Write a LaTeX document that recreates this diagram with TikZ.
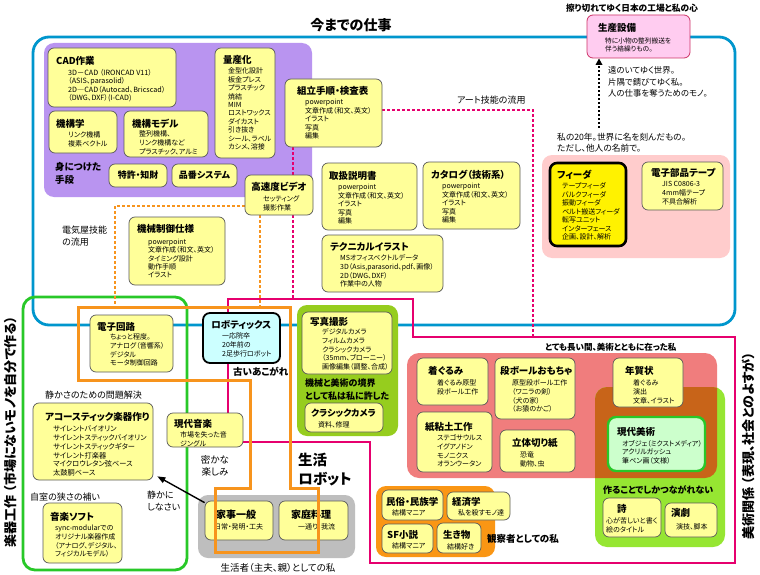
\documentclass[tikz,border=0pt]{standalone}
\usepackage{fontspec}
\setmainfont{Noto Sans CJK JP}[RawFeature=+palt]
\usetikzlibrary{fit,calc,arrows.meta}
\definecolor{ylw}{RGB}{255,255,153}
\definecolor{bluel}{RGB}{0,150,205}
\definecolor{purp}{RGB}{185,148,240}
\definecolor{pinkr}{RGB}{255,204,204}
\definecolor{grn}{RGB}{40,200,40}
\definecolor{limea}{RGB}{150,205,30}
\definecolor{limeb}{RGB}{150,230,50}
\definecolor{salm}{RGB}{240,125,125}
\definecolor{brownx}{RGB}{200,100,25}
\definecolor{grayr}{RGB}{190,190,190}
\definecolor{orng}{RGB}{247,148,29}
\definecolor{orreg}{RGB}{250,150,20}
\definecolor{mag}{RGB}{230,0,110}
\definecolor{cyanb}{RGB}{204,255,255}
\definecolor{ltgrn}{RGB}{204,255,204}
\definecolor{seis}{RGB}{255,204,240}
\definecolor{seisb}{RGB}{204,51,102}
\pgfdeclarelayer{regions}
\pgfdeclarelayer{lines}
\pgfdeclarelayer{front}
\pgfsetlayers{regions,lines,main,front}
\begin{document}
\begin{tikzpicture}[x=1pt,y=-1pt,
  yb/.style={draw=black!65, fill=ylw, rounded corners=6pt, line width=0.7pt, inner sep=0pt},
  ttl/.style={font=\bfseries\fontsize{9.5}{11}\selectfont, anchor=west, inner sep=0pt},
  bd/.style={font=\fontsize{7}{8.6}\selectfont, anchor=north west, align=left, inner sep=0pt, yshift=3.2pt},
  lb/.style={font=\fontsize{9}{12}\selectfont, anchor=west, inner sep=0pt},
  lbb/.style={font=\bfseries\fontsize{9}{12}\selectfont, anchor=west, inner sep=0pt},
  pdot/.style={mag, line width=2.6pt, dash pattern=on 2.6pt off 2.4pt},
  odot/.style={orng, line width=2.6pt, dash pattern=on 2.6pt off 2.4pt},
  vert/.style={font=\bfseries\fontsize{13}{15}\selectfont, rotate=90, inner sep=0pt}
]
\useasboundingbox (0,0) rectangle (760,575);

% ---------- regions ----------
\begin{pgfonlayer}{regions}
\fill[white] (0,0) rectangle (760,575);
\draw[bluel, line width=2.8pt, rounded corners=16pt] (33,37) rectangle (735,325);
\fill[purp, rounded corners=10pt] (44,43) rectangle (312,197);
\fill[pinkr, rounded corners=10pt] (542,155) rectangle (730,258);
\fill[limea, rounded corners=10pt] (297,305) rectangle (398,436);
\fill[salm, rounded corners=12pt] (407,353) rectangle (717,478);
\fill[limeb, rounded corners=12pt] (595,387) rectangle (725,547);
\begin{scope}
\clip[rounded corners=12pt] (407,353) rectangle (717,478);
\fill[brownx, rounded corners=12pt] (595,387) rectangle (725,547);
\end{scope}
\fill[grayr, rounded corners=10pt] (198,495) rectangle (355,558);
\fill[orreg, rounded corners=10pt] (376,486) rectangle (495,557);
\end{pgfonlayer}

% ---------- titles ----------
\node[font=\bfseries\fontsize{14}{16}\selectfont, inner sep=0pt] (maintitle) at (351,25) {今までの仕事};
\node[font=\bfseries\fontsize{8.7}{10}\selectfont, inner sep=0pt] (toptitle) at (632,8) {擦り切れてゆく日本の工場と私の心};

% ---------- purple group ----------
\node[yb, fit={(48,48)(176,107)}] (cad) {};
\node[ttl] at (56,61) {CAD作業};
\node[bd, font=\fontsize{7.2}{8.6}\selectfont] at (68,72) {3D－CAD （IRONCAD V11）\\（ASIS、parasolid）\\2D―CAD（Autocad、Bricscad）\\（DWG、DXF）(I-CAD)};

\node[yb, fit={(49,111)(117,153)}] (kikou) {};
\node[ttl] at (56,124) {機構学};
\node[bd] at (68,135) {リンク機構\\複素ベクトル};

\node[yb, fit={(124,111)(208,157)}] (model) {};
\node[ttl] at (132,124) {機構モデル};
\node[bd] at (139,134) {整列機構、\\リンク機構など\\プラスチック、アルミ};

\node[font=\bfseries\fontsize{9.5}{13}\selectfont, align=left, anchor=west, inner sep=0pt] (mi) at (55,173.5) {身につけた\\手段};
\node[yb, fit={(109,164)(167,187)}] (tokkyo) {};
\node[font=\bfseries\fontsize{9}{11}\selectfont, inner sep=0pt] at (tokkyo) {特許・知財};
\node[yb, fit={(172,164)(237,187)}] (hinban) {};
\node[font=\bfseries\fontsize{9}{11}\selectfont, inner sep=0pt] at (hinban) {品番システム};

\node[yb, fit={(215,48)(275,158)}] (ryo) {};
\node[ttl] at (223,60) {量産化};
\node[bd, font=\fontsize{7}{8.4}\selectfont] at (228,71) {金型化設計\\板金プレス\\プラスチック\\焼結\\MIM\\ロストワックス\\ダイカスト\\引き抜き\\シール、ラベル\\カシメ、溶接};

% ---------- documents ----------
\node[yb, fit={(285,79)(382,147)}] (kumi) {};
\node[ttl] at (297,91) {組立手順・検査表};
\node[bd] at (305,102) {powerpoint\\文章作成（和文、英文）\\イラスト\\写真\\編集};

\node[yb, fit={(245,175)(313,215)}] (video) {};
\node[ttl, anchor=center] at (279,187) {高速度ビデオ};
\node[bd] at (263,199) {セッティング\\撮影作業};

\node[yb, fit={(322,163)(417,230)}] (tori) {};
\node[ttl] at (329,176) {取扱説明書};
\node[bd] at (338,187) {powerpoint\\文章作成（和文、英文）\\イラスト\\写真\\編集};

\node[yb, fit={(423,162)(520,229)}] (cata) {};
\node[ttl] at (431,175) {カタログ（技術系）};
\node[bd] at (442,186) {powerpoint\\文章作成（和文、英文）\\イラスト\\写真\\編集};

\node[yb, fit={(322,235)(443,292)}] (tech) {};
\node[ttl] at (330,247) {テクニカルイラスト};
\node[bd] at (340,258) {MSオフィスベクトルデータ\\3D（Asis,parasorid、pdf、画像）\\2D（DWG、DXF）\\作業中の人物};

\node[yb, fit={(129,217)(225,285)}] (seigyo) {};
\node[ttl] at (137,229) {機械制御仕様};
\node[bd, font=\fontsize{7}{8.3}\selectfont] at (148,242) {powerpoint\\文章作成（和文、英文）\\タイミング設計\\動作手順\\イラスト};

\node[lb, align=left, font=\fontsize{9}{12.5}\selectfont] (denki) at (62,236) {電気屋技能\\の流用};
\node[lb] (art) at (457,100) {アート技能の流用};

% ---------- top right ----------
\node[draw=seisb, fill=seis, rounded corners=6pt, line width=0.8pt, inner sep=0pt, fit={(587,15)(690,58)}] (seisan) {};
\node[ttl] at (598,28) {生産設備};
\node[bd, font=\fontsize{6.7}{8.3}\selectfont] at (605,41) {特に小物の整列搬送を\\伴う絡繰りもの。};
\node[lb, align=left, font=\fontsize{8.4}{11.7}\selectfont] (tooku) at (608,82) {遠のいてゆく世界。\\片隅で錆びてゆく私。\\人の仕事を奪うためのモノ。};
\node[lb, align=left, font=\fontsize{8.7}{11}\selectfont] (watashi) at (557,142.5) {私の20年。世界に名を刻んだもの。\\ただし、他人の名前で。};

\node[draw=black, fill=yellow, line width=2.6pt, rounded corners=7pt, inner sep=0pt, fit={(550,163)(626,246)}] (feeder) {};
\node[ttl] at (557,175) {フィーダ};
\node[bd, font=\fontsize{7}{8.5}\selectfont] at (562,186) {テープフィーダ\\バルクフィーダ\\振動フィーダ\\ベルト搬送フィーダ\\転写ユニット\\インターフェース\\企画、設計、解析};

\node[yb, fit={(642,162)(723,210)}] (tape) {};
\node[ttl] at (651,173) {電子部品テープ};
\node[bd, font=\fontsize{7}{9}\selectfont] at (662,184) {JIS C0806-3\\4mm幅テープ\\不具合解析};

% ---------- left green group ----------
\node[lb] (shizuka) at (45,395) {静かさのための問題解決};
\node[yb, fit={(33,403)(153,480)}] (aco) {};
\node[ttl] at (45,417) {アコースティック楽器作り};
\node[bd, font=\fontsize{7.2}{8.7}\selectfont] at (53,429) {サイレントバイオリン\\サイレントスティックバイオリン\\サイレントスティックギター\\サイレント打楽器\\マイクロウレタン弦ベース\\太鼓胴ベース};
\node[lb] (jishitsu) at (30,497) {自室の狭さの補い};
\node[yb, fit={(43,503)(122,563)}] (soft) {};
\node[ttl] at (50,517) {音楽ソフト};
\node[bd, font=\fontsize{7}{8.8}\selectfont] at (55,528) {sync-modularでの\\オリジナル楽器作成\\（アナログ、デジタル、\\フィジカルモデル）};
\node[lb, align=left] (shizukani) at (147,501) {静かに\\しなさい};

% ---------- centre ----------
\node[yb, fit={(90,315)(173,372)}] (denshi) {};
\node[ttl] at (97,327) {電子回路};
\node[bd, font=\fontsize{7}{8.7}\selectfont] at (110,337) {ちょっと程度。\\アナログ（音響系）\\デジタル\\モータ制御回路};

\node[draw=black, fill=cyanb, line width=1.8pt, rounded corners=7pt, inner sep=0pt, fit={(203,313)(280,363)}] (robo) {};
\node[ttl] at (211,325) {ロボティックス};
\node[bd] at (222,336) {一応院卒\\20年前の\\2足歩行ロボット};
\node[lbb, font=\bfseries\fontsize{9.5}{12}\selectfont] (furui) at (233,372) {古いあこがれ};

\node[yb, fit={(302,312)(392,374)}] (photo) {};
\node[ttl] at (310,322) {写真撮影};
\node[bd] at (322,332) {デジタルカメラ\\フィルムカメラ\\クラシックカメラ\\（35mm、ブローニー）\\画像編集（調整、合成）};
\node[lbb, align=left, font=\bfseries\fontsize{9}{13}\selectfont] (kyokai) at (305,389.5) {機械と美術の境界\\として私は私に許した};
\node[yb, fit={(305,403)(383,432)}] (cc) {};
\node[ttl, font=\bfseries\fontsize{9}{11}\selectfont] at (311,413) {クラシックカメラ};
\node[bd] at (318,425) {資料、修理};

\node[yb, fit={(167,413)(243,447)}] (gen) {};
\node[ttl] at (174,424) {現代音楽};
\node[bd] at (180,435) {市場を失った音\\ジングル};
\node[font=\fontsize{9.5}{12.5}\selectfont, align=center, inner sep=0pt] (hisoka) at (215,466) {密かな\\楽しみ};
\node[font=\bfseries\fontsize{14.5}{19}\selectfont, align=left, anchor=west, inner sep=0pt] (seikatsu) at (298,469.5) {生活\\ロボット};

\node[yb, fit={(205,501)(273,540)}] (kaji) {};
\node[ttl, font=\bfseries\fontsize{10}{12}\selectfont] at (216,515) {家事一般};
\node[bd] at (214,527) {日常・発明・工夫};
\node[yb, fit={(279,501)(348,540)}] (ryori) {};
\node[ttl, font=\bfseries\fontsize{10}{12}\selectfont] at (291,515) {家庭料理};
\node[bd] at (298,527) {一通り、我流};
\node[font=\fontsize{9.5}{12}\selectfont, inner sep=0pt] (seikatsusha) at (278,568) {生活者（主夫、親）としての私};

% ---------- art group ----------
\node[lbb, font=\bfseries\fontsize{8.5}{10}\selectfont] (totemo) at (545,347) {とても長い間、美術とともに在った私};
\node[yb, fit={(417,358)(488,405)}] (kigurumi) {};
\node[ttl] at (428,371) {着ぐるみ};
\node[bd] at (437,383) {着ぐるみ原型\\段ボール工作};
\node[yb, fit={(495,358)(575,419)}] (danbo) {};
\node[ttl] at (500,371) {段ボールおもちゃ};
\node[bd] at (512,383) {原型段ボール工作\\（ワニラの剣）\\（犬の家）\\（お猿のかご）};
\node[yb, fit={(417,412)(492,472)}] (nendo) {};
\node[ttl] at (425,427) {紙粘土工作};
\node[bd] at (437,438) {ステゴサウルス\\イグアノドン\\モノニクス\\オランウータン};
\node[yb, fit={(500,430)(575,472)}] (kirigami) {};
\node[ttl] at (512,443) {立体切り紙};
\node[bd] at (520,455) {恐竜\\動物、虫};
\node[yb, fit={(613,358)(683,407)}] (nenga) {};
\node[ttl] at (625,371) {年賀状};
\node[bd] at (633,383) {着ぐるみ\\演出\\文章、イラスト};

\node[draw=grn, fill=ltgrn, line width=2.4pt, rounded corners=8pt, inner sep=0pt, fit={(608,417)(705,471)}] (bijutsu) {};
\node[ttl] at (617,432) {現代美術};
\node[bd] at (622,443) {オブジェ（ミクストメディア）\\アクリルガッシュ\\筆ペン画（文様）};
\node[lbb, font=\bfseries\fontsize{9}{11}\selectfont] (tsukuru) at (603,490) {作ることでしかつながれない};
\node[yb, fit={(603,498)(661,537)}] (shi) {};
\node[ttl] at (617,509) {詩};
\node[bd, font=\fontsize{7}{9}\selectfont] at (606,521) {心が苦しいと書く\\絵のタイトル};
\node[yb, fit={(665,503)(717,537)}] (engeki) {};
\node[ttl] at (671,513) {演劇};
\node[bd] at (676,527) {演技、脚本};

% ---------- observer group ----------
\node[yb, fit={(382,490)(443,520)}] (minzoku) {};
\node[ttl] at (386,502) {民俗・民族学};
\node[bd] at (392,513) {結構マニア};
\node[yb, fit={(447,492)(510,520)}] (keizai) {};
\node[ttl] at (452,502) {経済学};
\node[bd] at (458,513) {私を殺すモノ達};
\node[yb, fit={(382,524)(433,553)}] (sf) {};
\node[ttl] at (387,535) {SF小説};
\node[bd] at (392,546) {結構マニア};
\node[yb, fit={(437,523)(481,553)}] (ikimono) {};
\node[ttl] at (443,535) {生き物};
\node[bd] at (447,547) {結構好き};
\node[lbb, font=\bfseries\fontsize{9.5}{12}\selectfont] (kansatsu) at (487,539) {観察者としての私};

% ---------- vertical labels ----------
\node[vert] (gakki) at (11,432) {楽器工作 （市場にないモノを自分で作る）};
\node[vert] (bijutsukankei) at (748,446) {美術関係 （表現、社会とのよすが）};

% ---------- lines behind boxes ----------
\coordinate (px) at (293,0);
\coordinate (magtop) at (0,299);
\coordinate (artend) at (533,337);
\begin{pgfonlayer}{lines}
\draw[grn, line width=2.8pt, rounded corners=12pt] (23,297) rectangle (187,570);
\draw[mag, line width=2.8pt] ([xshift=23pt]gen.north) -- (228,299) -- (413,299) -- (413,337) -- (735,337) -- (735,563) -- (370,563) -- (370,442) -- ([yshift=-12pt]gen.east);
\draw[pdot] ([yshift=3pt]kumi.east) -| (artend);
\draw[pdot] (px |- kumi.south) -- (px |- video.north);
\draw[pdot] (px |- video.south) -- (px |- magtop);
\draw[odot] ([yshift=-11pt]video.west) -| (115,307);
\draw[odot] ([xshift=-19pt]video.south) -- ++(0,92);
\end{pgfonlayer}

% ---------- front ----------
\coordinate (darr) at (599,128);
\begin{pgfonlayer}{front}
\draw[orng, line width=3pt] (78,307) -- (290,307) -- (290,488) -- (318,488) -- (318,552) -- (215,552) -- (215,488) -- (250,488) -- (250,380) -- (78,380) -- cycle;
\draw[line width=1.4pt, -{Triangle[width=6pt,length=8pt]}] ([shift={(0,2)}]kaji.north west) -- ($(aco.south east)+(4,-4)$);
\draw[line width=2pt, dash pattern=on 2pt off 2pt, -{Triangle[width=6.5pt,length=6.5pt]}] (darr) -- (darr |- seisan.south);
\end{pgfonlayer}
\end{tikzpicture}
\end{document}
